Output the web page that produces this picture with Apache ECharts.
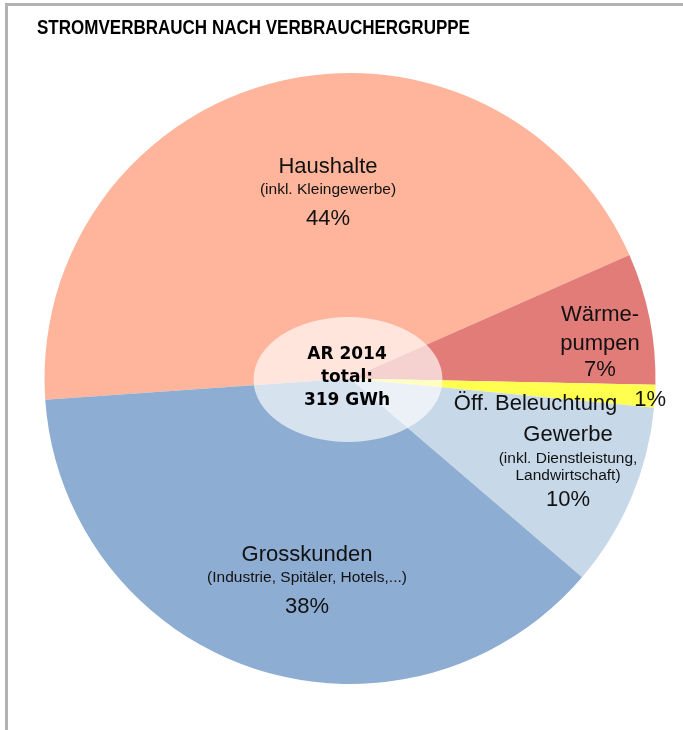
<!DOCTYPE html>
<html>
<head>
<meta charset="utf-8">
<script src="https://cdn.jsdelivr.net/npm/echarts@6/dist/echarts.min.js"></script>
<style>
  html, body { margin: 0; padding: 0; background: #fff; }
  #chart { width: 683px; height: 730px; }
</style>
</head>
<body>
<div id="chart"></div>
<script>
// data (GWh, total 319 GWh)
const categories = ['Haushalte', 'Wärmepumpen', 'Öff. Beleuchtung', 'Gewerbe', 'Grosskunden']
const labelNames = [['Haushalte'], ['Wärme-', 'pumpen'], ['Öff. Beleuchtung'], ['Gewerbe'], ['Grosskunden']]
const labelNotes = [['(inkl. Kleingewerbe)'], [], [], ['(inkl. Dienstleistung,', 'Landwirtschaft)'], ['(Industrie, Spitäler, Hotels,...)']]
const consumptionGWh = [141.9, 22.2, 3.8, 31.1, 120.0]
const centerLines = ['AR 2014', 'total:', '319 GWh']
const chartTitle = 'STROMVERBRAUCH NACH VERBRAUCHERGRUPPE'

const sliceColors = ['#feb59c', '#e27c79', '#ffff50', '#c7d8e9', '#8eadd2']
// where each label block sits
const labelPos = [[328, 196], [600, 341], [560, 404], [568, 467], [307, 584]]
const labelRich = [
  null,
  { rich: { n: { lineHeight: 29 }, p: { lineHeight: 23 } } },
  null,
  { rich: { n: { lineHeight: 31 }, s: { lineHeight: 17 }, p: { lineHeight: 31 } } },
  null
]

const total = consumptionGWh.reduce((a, b) => a + b, 0)

function labelText(params) {
  const i = params.dataIndex
  const pct = Math.round(consumptionGWh[i] / total * 100) + '%'
  if (labelNames[i].length === 1 && labelNotes[i].length === 0) {
    return `{n|${labelNames[i][0]}}{p1|${pct}}`
  }
  const lines = labelNames[i].map(t => `{n|${t}}`)
    .concat(labelNotes[i].map(t => `{s|${t}}`))
    .concat([`{p|${pct}}`])
  return lines.join('\n')
}

const chart = echarts.init(document.getElementById('chart'))

const option = {
  animation: false,
  backgroundColor: '#fff',
  graphic: [
    {
      type: 'rect',
      shape: { x: 6.5, y: 4.5, width: 800, height: 800 },
      style: { fill: null, stroke: '#b3b3b3', lineWidth: 3 },
      z: 100
    },
    {
      type: 'text',
      x: 37,
      y: 28,
      scaleX: 0.83,
      style: {
        text: chartTitle,
        font: 'bold 20.5px "Liberation Sans", Arial, sans-serif',
        fill: '#000',
        textAlign: 'left',
        textVerticalAlign: 'middle'
      },
      z: 100
    },
    {
      type: 'circle',
      x: 348,
      y: 379.5,
      scaleY: 62.5 / 94.5,
      shape: { cx: 0, cy: 0, r: 94.5 },
      style: { fill: 'rgba(255,255,255,0.65)' },
      z: 100
    },
    {
      type: 'text',
      x: 347,
      y: 378,
      style: {
        text: centerLines.join('\n'),
        font: 'bold 17px "DejaVu Sans", sans-serif',
        lineHeight: 23,
        fill: '#000',
        textAlign: 'center',
        textVerticalAlign: 'middle'
      },
      z: 101
    }
  ],
  series: [
    {
      type: 'pie',
      center: [350, 378.5],
      radius: [0, 305.5],
      startAngle: 184,
      clockwise: true,
      avoidLabelOverlap: false,
      emphasis: { disabled: true },
      itemStyle: { borderWidth: 0 },
      labelLine: { show: false },
      label: {
        show: true,
        position: 'inside',
        color: '#111',
        textBorderWidth: 0,
        textBorderColor: 'transparent',
        fontFamily: '"Liberation Sans", Arial, sans-serif',
        formatter: labelText,
        rich: {
          n: { fontSize: 22, lineHeight: 26, color: '#111', fontFamily: '"Liberation Sans", Arial, sans-serif' },
          s: { fontSize: 15.5, lineHeight: 20, color: '#111', fontFamily: '"Liberation Sans", Arial, sans-serif' },
          p: { fontSize: 22, lineHeight: 38, color: '#111', fontFamily: '"Liberation Sans", Arial, sans-serif' },
          p1: { fontSize: 22, lineHeight: 26, color: '#111', padding: [0, 0, 8, 17], fontFamily: '"Liberation Sans", Arial, sans-serif' }
        }
      },
      labelLayout: function (params) {
        const pos = labelPos[params.dataIndex]
        return { x: pos[0], y: pos[1], align: 'center', verticalAlign: 'middle' }
      },
      data: categories.map((name, i) => {
        const item = {
          name: name,
          value: consumptionGWh[i],
          itemStyle: { color: sliceColors[i] }
        }
        if (labelRich[i]) item.label = labelRich[i]
        return item
      })
    }
  ]
}

chart.setOption(option)
</script>
</body>
</html>
